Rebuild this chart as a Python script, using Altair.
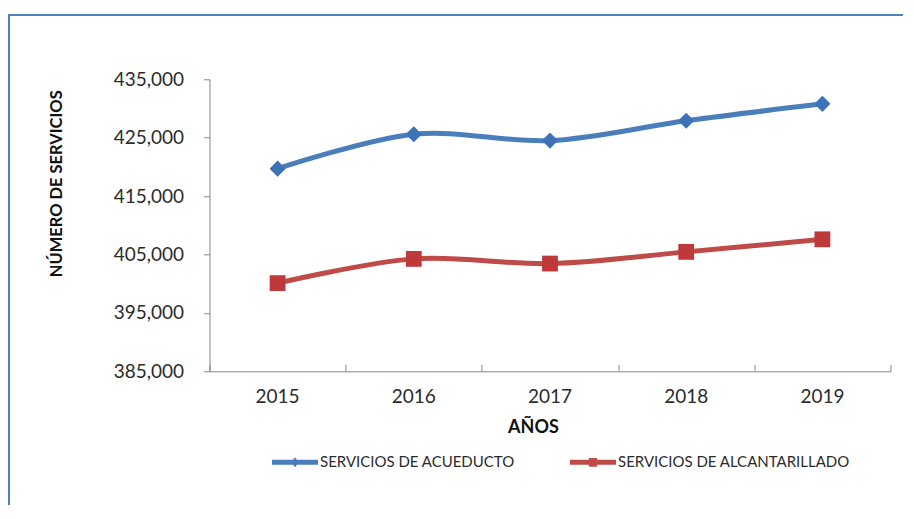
import altair as alt
import pandas as pd

years = ["2015", "2016", "2017", "2018", "2019"]
acueducto = [419700, 425600, 424500, 427900, 430800]
alcantarillado = [400100, 404250, 403450, 405450, 407600]
series_names = ["SERVICIOS DE ACUEDUCTO", "SERVICIOS DE ALCANTARILLADO"]
y_ticks = [385000, 395000, 405000, 415000, 425000, 435000]

line_colors = ["#4A7EBB", "#BE4B48"]
marker_colors = ["#3D72B7", "#C0393A"]

rows = []
for name, vals in zip(series_names, [acueducto, alcantarillado]):
    for yr, v in zip(years, vals):
        rows.append({"anio": yr, "serie": name, "valor": v})
df = pd.DataFrame(rows)

FONT = "Lato"
AX = "#868686"
TXT = "#2b2b2b"
W, H = 681, 292

xscale = alt.Scale(type="band", domain=years, paddingInner=0, paddingOuter=0)
yscale = alt.Scale(domain=[385000, 435000], nice=False, zero=False)
cscale = alt.Scale(domain=series_names, range=line_colors)

x_main = alt.X(
    "anio:O", scale=xscale, sort=years,
    axis=alt.Axis(
        title="AÑOS", labelAngle=0, ticks=False, domainColor=AX, domainWidth=1,
        labelFont=FONT, labelFontSize=19, labelColor=TXT, labelPadding=16,
        titleFont=FONT, titleFontSize=18, titleFontWeight="bold", titleColor="#111111",
        titleX=323.5, titleY=56, titleBaseline="middle", titleAlign="center",
        grid=False,
    ),
)
y_main = alt.Y(
    "valor:Q", scale=yscale,
    axis=alt.Axis(
        values=y_ticks, format=",d", grid=False, tickSize=6, tickColor=AX,
        domainColor=AX, labelFont=FONT, labelFontSize=19, labelColor=TXT,
        labelPadding=20, title="NÚMERO DE SERVICIOS", titleFont=FONT,
        titleFontSize=16.5, titleFontWeight="bold", titleColor="#111111",
        titleAngle=270, titleX=-153.5, titleY=104, titleBaseline="middle",
        titleAlign="center",
    ),
)
x_plain = alt.X("anio:O", scale=xscale, sort=years, axis=None)

base = alt.Chart(df)

line_a = base.transform_filter(alt.datum.serie == series_names[0]).mark_line(
    strokeWidth=5, interpolate="cardinal", color=line_colors[0]
).encode(x=x_main, y=y_main)

line_b = base.transform_filter(alt.datum.serie == series_names[1]).mark_line(
    strokeWidth=5, interpolate="cardinal", color=line_colors[1]
).encode(x=x_plain, y=y_main)

pts_a = base.transform_filter(alt.datum.serie == series_names[0]).mark_point(
    shape="diamond", filled=True, size=260, opacity=1, color=marker_colors[0]
).encode(x=x_plain, y=y_main)

pts_b = base.transform_filter(alt.datum.serie == series_names[1]).mark_point(
    shape="square", filled=True, size=250, opacity=1, color=marker_colors[1]
).encode(x=x_plain, y=y_main)

leg_paths = [
    "M-1,-0.11L1,-0.11L1,0.11L-1,0.11Z M0,-0.22L0.17,0L0,0.22L-0.17,0Z",
    "M-1,-0.11L1,-0.11L1,0.11L-1,0.11Z M-0.18,-0.19L0.18,-0.19L0.18,0.19L-0.18,0.19Z",
]
legend = alt.Legend(
    title=None, orient="none", legendX=62.5, legendY=360, direction="horizontal",
    symbolSize=2116, symbolStrokeWidth=0, symbolOpacity=1, labelFont=FONT, labelFontSize=15,
    labelColor=TXT, labelOffset=2, columnPadding=55, padding=0, labelLimit=400,
)
leg_layer = base.mark_point(filled=True, opacity=0).encode(
    x=alt.X("anio:O", scale=xscale, sort=years,
            axis=alt.Axis(orient="top", offset=-H, labels=False, title=None,
                          domain=False, ticks=True, tickSize=7, tickColor=AX,
                          tickBand="extent", grid=False)),
    y=y_main,
    color=alt.Color("serie:N", scale=cscale, legend=legend),
    shape=alt.Shape("serie:N", scale=alt.Scale(domain=series_names, range=leg_paths), legend=legend),
)

one = alt.Data(values=[{"k": 1}])
border = alt.Chart(one).mark_rule(color="#4F81BD", strokeWidth=2).encode(
    x=alt.value(-200.5), x2=alt.value(720), y=alt.value(-64.3)
)
border_left = alt.Chart(one).mark_rule(color="#4F81BD", strokeWidth=2).encode(
    x=alt.value(-200.5), y=alt.value(-65.3), y2=alt.value(440)
)

chart = alt.layer(border, border_left, line_a, line_b, pts_a, pts_b, leg_layer).resolve_axis(
    x="independent"
).properties(
    width=W, height=H,
    autosize=alt.AutoSizeParams(type="none"),
    padding={"left": 201.5, "top": 71.3, "right": 12, "bottom": 134},
).configure(font=FONT).configure_view(stroke=None)

chart.save("out.html", embed_options={"renderer": "svg", "actions": False})
